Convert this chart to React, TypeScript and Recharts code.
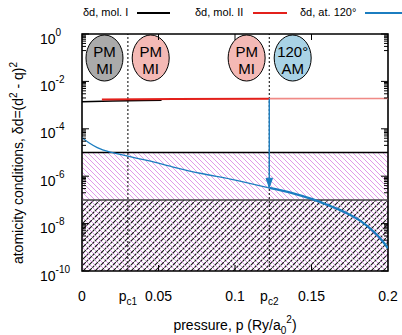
import {
  ComposedChart,
  Line,
  ReferenceArea,
  ReferenceDot,
  ReferenceLine,
  XAxis,
  YAxis,
} from 'recharts';

// critical pressures
const PC1 = 0.03;
const PC2 = 0.1224;

// atomicity thresholds
const UPPER_LIMIT = 1e-5;
const LOWER_LIMIT = 1e-7;

// δd, mol. I
const molIP = [0, 0.02, 0.04, 0.052];
const molID = [1.38e-3, 1.48e-3, 1.57e-3, 1.62e-3];

// δd, mol. II (before / after pc2)
const molIIP = [0.013, 0.06, PC2];
const molIID = [1.73e-3, 1.8e-3, 1.87e-3];
const molIIHighP = [PC2, 0.2];
const molIIHighD = [1.87e-3, 1.9e-3];

// δd, at. 120° (thin before pc2, thick after)
const atP = [0, 0.005, 0.01, 0.02, 0.03, 0.044, 0.059, 0.078, 0.097, PC2];
const atD = [4.2e-5, 2.45e-5, 1.6e-5, 9.8e-6, 7.1e-6, 4.4e-6, 2.5e-6, 1.3e-6, 7.6e-7, 3.2e-7];
const atHighP = [PC2, 0.138, 0.151, 0.16, 0.171, 0.182, 0.19, 0.196, 0.2];
const atHighD = [3.2e-7, 1.9e-7, 1.05e-7, 6.3e-8, 3.2e-8, 1.3e-8, 5.0e-9, 2.0e-9, 9.1e-10];

// phase bubbles
const bubbleP = [0.0147, 0.0449, 0.1076, 0.1377];
const bubbleTop = ['PM', 'PM', 'PM', '120°'];
const bubbleBottom = ['MI', 'MI', 'MI', 'AM'];
const bubbleFill = ['#aaaaaa', '#f4b9b5', '#f4b9b5', '#a9d3e6'];
const BUBBLE_D = 0.097;

// axes
const xTicks = [0, PC1, 0.05, 0.1, PC2, 0.15, 0.2];
const xLabels = ['0', 'pc1', '0.05', '0.1', 'pc2', '0.15', '0.2'];
const xInnerTicks = [0.05, 0.1, 0.15];
const yMajor = [1, 1e-2, 1e-4, 1e-6, 1e-8, 1e-10];
const yExp = ['0', '-2', '-4', '-6', '-8', '-10'];

const yMinor: number[] = [];
[1e-1, 1e-3, 1e-5, 1e-7, 1e-9].forEach((base) => {
  for (let m = 2; m <= 9; m++) yMinor.push(base * m);
});

const toRows = (p: number[], d: number[]) => p.map((x, i) => ({ p: x, d: d[i] }));

const BLUE = '#1b7dc0';
const FONT = '"Liberation Sans", Arial, Helvetica, sans-serif';

const W = 402;
const H = 335;
const PL = 82;
const PR = 388;
const PT = 34;
const PB = 271;

const YTick = (props: any) => {
  const { y, payload } = props;
  const v = payload.value;
  const idx = yMajor.indexOf(v);
  const len = idx >= 0 ? 7 : 4;
  return (
    <g>
      <line x1={PL} x2={PL + len} y1={y} y2={y} stroke="#000" strokeWidth={1} />
      <line x1={PR} x2={PR - len} y1={y} y2={y} stroke="#000" strokeWidth={1} />
      {idx >= 0 && (
        <text x={40} y={y + 9.5} fontSize={14} fontFamily={FONT} fill="#000">
          10
          <tspan dy={-8} fontSize={10}>
            {yExp[idx]}
          </tspan>
        </text>
      )}
    </g>
  );
};

const XTick = (props: any) => {
  const { x, payload } = props;
  const v = payload.value;
  const label = xLabels[xTicks.indexOf(v)];
  const inner = xInnerTicks.includes(v);
  return (
    <g>
      {inner && (
        <>
          <line x1={x} x2={x} y1={PB} y2={PB - 6} stroke="#000" />
          <line x1={x} x2={x} y1={PT} y2={PT + 6} stroke="#000" />
        </>
      )}
      {label && label.startsWith('pc') ? (
        <text x={x} y={301} textAnchor="middle" fontSize={14} fontFamily={FONT} fill="#000">
          p
          <tspan dy={4} fontSize={10}>
            {label.slice(1)}
          </tspan>
        </text>
      ) : (
        <text x={x} y={301} textAnchor="middle" fontSize={14} fontFamily={FONT} fill="#000">
          {label}
        </text>
      )}
    </g>
  );
};

const bubbleShape = (i: number) => (props: any) => (
  <g>
    <ellipse cx={props.cx} cy={props.cy} rx={18.5} ry={23} fill={bubbleFill[i]} stroke="#000" strokeWidth={1} />
    <text x={props.cx} y={props.cy - 1} textAnchor="middle" fontSize={15} fontFamily={FONT} fill="#000">
      {bubbleTop[i]}
    </text>
    <text x={props.cx} y={props.cy + 16} textAnchor="middle" fontSize={15} fontFamily={FONT} fill="#000">
      {bubbleBottom[i]}
    </text>
  </g>
);

const arrowDot = (props: any) => {
  const { cx, cy, index } = props;
  if (index !== 1) return <g key={`a-${index}`} />;
  return (
    <path
      key={`a-${index}`}
      d={`M${cx},${cy} L${cx - 3.2},${cy - 9} L${cx + 3.2},${cy - 9} Z`}
      fill={BLUE}
      stroke={BLUE}
    />
  );
};

const legendItems = [
  { text: 'δd, mol. I', left: 83, x1: 137, x2: 170, color: '#000' },
  { text: 'δd, mol. II', left: 195, x1: 253, x2: 287, color: '#e3201b' },
  { text: 'δd, at. 120°', left: 300, x1: 365, x2: 402, color: BLUE },
];

export default function App() {
  return (
    <div style={{ position: 'relative', width: W, height: H, fontFamily: FONT }}>
      <style>{'body{margin:0}'}</style>
      {legendItems.map((it) => (
        <div key={it.text}>
          <span
            style={{ position: 'absolute', left: it.left, top: 6, fontSize: 11, lineHeight: '13px', whiteSpace: 'nowrap' }}
          >
            {it.text}
          </span>
          <div
            style={{ position: 'absolute', left: it.x1, top: 12, width: it.x2 - it.x1, height: 2, background: it.color }}
          />
        </div>
      ))}
      <ComposedChart width={W} height={H} margin={{ top: PT, right: W - PR, bottom: 34, left: 22 }}>
        <defs>
          <pattern id="pinkHatch" patternUnits="userSpaceOnUse" width={5} height={5}>
            <path d="M-1,4 l2,2 M0,0 l5,5 M4,-1 l2,2" stroke="#dc8fe6" strokeWidth={0.9} />
          </pattern>
          <pattern id="blackHatch" patternUnits="userSpaceOnUse" width={6} height={6}>
            <path d="M-1,1 l2,-2 M0,6 l6,-6 M5,7 l2,-2" stroke="#111" strokeWidth={1.1} strokeDasharray="2.6 0.9" />
          </pattern>
        </defs>
        <XAxis
          type="number"
          dataKey="p"
          domain={[0, 0.2]}
          ticks={xTicks}
          interval={0}
          tick={<XTick />}
          tickLine={false}
          axisLine={false}
          height={30}
          allowDataOverflow
        />
        <YAxis
          type="number"
          dataKey="d"
          scale="log"
          domain={[1e-10, 1]}
          ticks={[...yMajor, ...yMinor]}
          interval={0}
          tick={<YTick />}
          tickLine={false}
          axisLine={false}
          width={60}
          allowDataOverflow
        />
        <ReferenceArea x1={0} x2={0.2} y1={LOWER_LIMIT} y2={UPPER_LIMIT} fill="url(#pinkHatch)" fillOpacity={1} stroke="none" />
        <ReferenceArea x1={0} x2={0.2} y1={1e-10} y2={LOWER_LIMIT} fill="url(#pinkHatch)" fillOpacity={1} stroke="none" />
        <ReferenceArea x1={0} x2={0.2} y1={1e-10} y2={LOWER_LIMIT} fill="url(#blackHatch)" fillOpacity={1} stroke="none" />
        <ReferenceLine y={UPPER_LIMIT} stroke="#000" strokeWidth={1.3} />
        <ReferenceLine y={LOWER_LIMIT} stroke="#444" strokeWidth={1.5} />
        <ReferenceLine x={PC1} stroke="#000" strokeWidth={1} strokeDasharray="2 2" />
        <ReferenceLine x={PC2} stroke="#000" strokeWidth={1} strokeDasharray="2 2" />
        {bubbleP.map((p, i) => (
          <ReferenceDot key={`b-${i}`} x={p} y={BUBBLE_D} r={18} shape={bubbleShape(i)} />
        ))}
        <Line data={toRows(molIP, molID)} dataKey="d" stroke="#000" strokeWidth={1.6} dot={false} isAnimationActive={false} />
        <Line data={toRows(molIIP, molIID)} dataKey="d" stroke="#e3201b" strokeWidth={2} dot={false} isAnimationActive={false} />
        <Line data={toRows(molIIHighP, molIIHighD)} dataKey="d" stroke="#f08a86" strokeWidth={1.6} dot={false} isAnimationActive={false} />
        <Line data={toRows(atP, atD)} dataKey="d" type="monotone" stroke={BLUE} strokeWidth={1.3} dot={false} isAnimationActive={false} />
        <Line data={toRows(atHighP, atHighD)} dataKey="d" type="monotone" stroke={BLUE} strokeWidth={2.3} dot={false} isAnimationActive={false} />
        <Line
          data={toRows([PC2, PC2], [1.87e-3, 3.4e-7])}
          dataKey="d"
          stroke={BLUE}
          strokeWidth={1.4}
          dot={arrowDot}
          isAnimationActive={false}
        />
        <ReferenceArea x1={0} x2={0.2} y1={1e-10} y2={1} fill="none" stroke="#000" strokeWidth={1.6} />
        <text x={235} y={330} textAnchor="middle" fontSize={14} fontFamily={FONT} fill="#000">
          pressure, p (Ry/a
          <tspan dy={4} fontSize={10}>0</tspan>
          <tspan dy={-11} fontSize={10}>2</tspan>
          <tspan dy={7}>)</tspan>
        </text>
        <text
          transform="translate(23,163) rotate(-90)"
          textAnchor="middle"
          fontSize={14}
          fontFamily={FONT}
          fill="#000"
        >
          atomicity conditions, δd=(d
          <tspan dy={-6} fontSize={10}>2</tspan>
          <tspan dy={6}> - q)</tspan>
          <tspan dy={-6} fontSize={10}>2</tspan>
        </text>
      </ComposedChart>
    </div>
  );
}
